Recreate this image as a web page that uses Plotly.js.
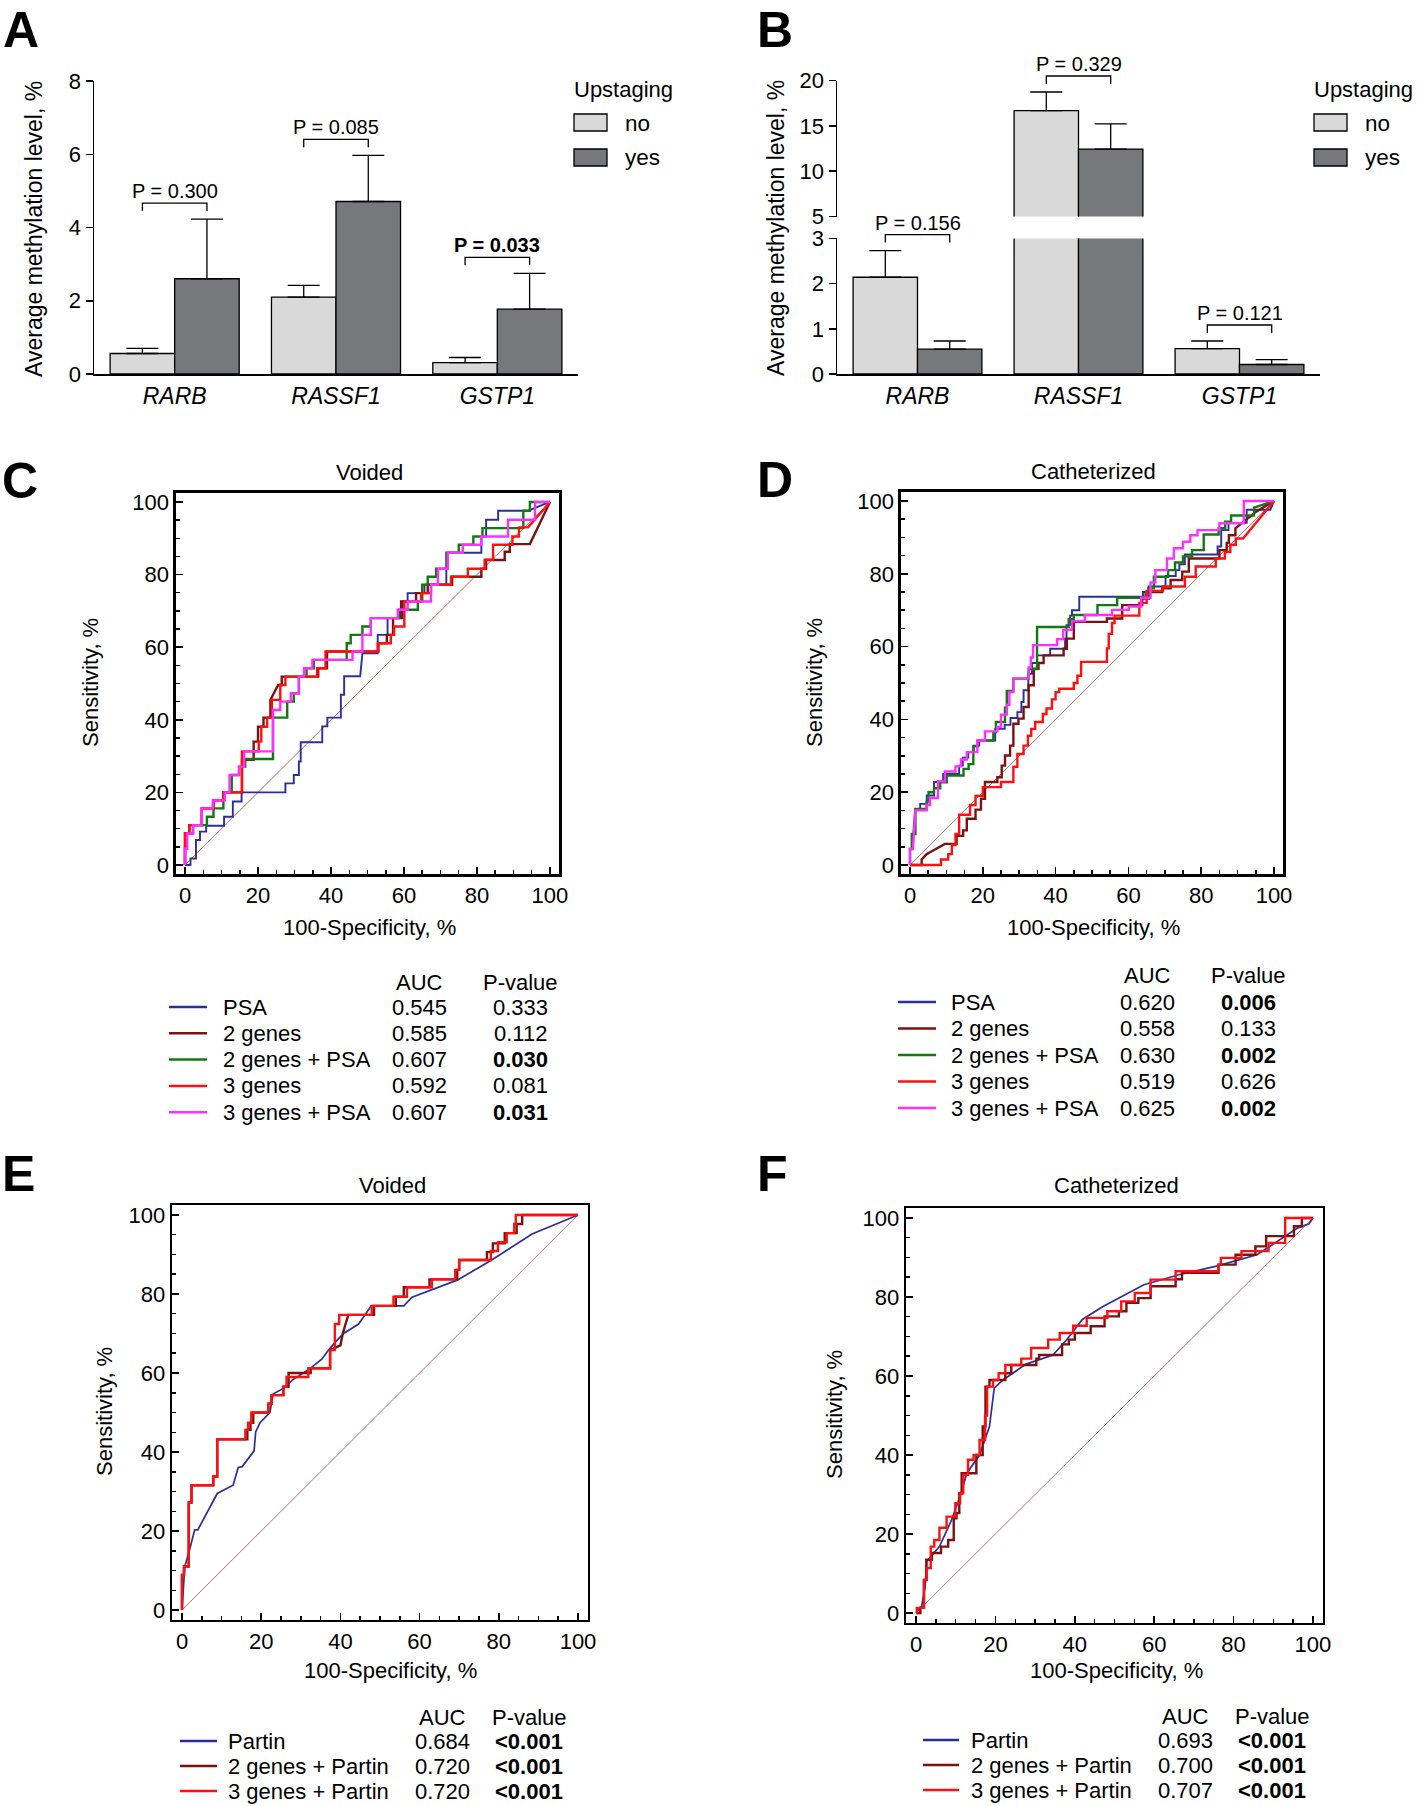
<!DOCTYPE html>
<html><head><meta charset="utf-8">
<script src="https://cdn.plot.ly/plotly-3.0.1.min.js"></script>
<style>html,body{margin:0;padding:0;background:#fff}</style>
</head><body><div id="chart" style="width:1418px;height:1806px"></div>
<script>
// ---------------- DATA ----------------
const genes = ['RARB', 'RASSF1', 'GSTP1'];
const groupNames = ['no', 'yes'];
const legendTitle = 'Upstaging';

// Panel A (voided urine)
const aNo = [0.56, 2.10, 0.31];
const aNoErr = [0.14, 0.32, 0.14];
const aYes = [2.60, 4.71, 1.77];
const aYesErr = [1.63, 1.26, 0.98];
const aP = ['0.300', '0.085', '0.033'];

// Panel B (catheterized urine)
const bNo = [2.14, 16.70, 0.56];
const bNoErr = [0.59, 2.05, 0.17];
const bYes = [0.55, 12.45, 0.21];
const bYesErr = [0.18, 2.78, 0.11];
const bP = ['0.156', '0.329', '0.121'];

// ROC legend tables
const cdNames = ['PSA', '2 genes', '2 genes + PSA', '3 genes', '3 genes + PSA'];
const cAUC = ['0.545', '0.585', '0.607', '0.592', '0.607'];
const cPval = ['0.333', '0.112', '0.030', '0.081', '0.031'];
const dAUC = ['0.620', '0.558', '0.630', '0.519', '0.625'];
const dPval = ['0.006', '0.133', '0.002', '0.626', '0.002'];
const efNames = ['Partin', '2 genes + Partin', '3 genes + Partin'];
const eAUC = ['0.684', '0.720', '0.720'];
const ePval = ['<0.001', '<0.001', '<0.001'];
const fAUC = ['0.693', '0.700', '0.707'];
const fPval = ['<0.001', '<0.001', '<0.001'];

// ROC curves [100-specificity, sensitivity] (%)
const cPSA = [[0,0],[1.5,0],[1.5,1.8],[3.0,1.8],[3.0,6.9],[4.1,6.9],[4.1,9.2],[5.8,9.2],[5.8,10.8],[10.7,10.8],[10.7,13.3],[13.1,13.3],[13.1,17.5],[15.5,17.5],[15.5,20.0],[27.5,20.0],[27.5,22.5],[29.8,22.5],[29.8,24.8],[31.2,24.8],[31.2,28.5],[31.7,28.5],[31.7,33.8],[37.6,33.8],[37.6,38.2],[39.0,38.2],[39.0,40.6],[42.7,40.6],[42.7,46.9],[43.6,46.9],[43.6,52.0],[48.0,52.0],[48.6,58.3],[52.8,58.3],[52.8,63.4],[55.5,63.4],[55.5,68.0],[59.6,68.0],[59.6,72.6],[61.0,72.6],[61.0,74.9],[65.6,74.9],[65.6,77.2],[71.6,77.2],[71.6,86.0],[81.2,86.0],[81.2,90.5],[82.5,90.5],[82.5,95.1],[85.8,95.1],[85.8,97.6],[94.0,97.6],[100,100]];
const c2Genes = [[0,0],[0,8.8],[1.2,8.8],[1.2,11.0],[4.6,11.0],[4.6,15.6],[7.8,15.6],[7.8,17.8],[10.5,17.8],[10.5,20.0],[15.6,20.0],[15.6,29.0],[18.8,29.0],[18.8,34.0],[20.0,34.0],[20.0,38.1],[21.5,38.1],[21.5,40.6],[23.4,40.6],[23.4,45.5],[24.8,48.2],[25.5,49.6],[26.5,49.6],[26.5,51.9],[36.5,51.9],[36.5,54.2],[38.9,54.2],[38.9,58.8],[53.0,58.8],[53.0,61.1],[55.3,61.1],[55.3,63.4],[57.0,63.4],[57.0,68.0],[59.2,68.0],[59.2,72.6],[63.3,72.6],[63.3,74.9],[66.5,74.9],[66.5,77.2],[73.2,77.2],[73.2,79.4],[81.2,79.4],[81.2,81.6],[82.5,81.6],[82.5,84.0],[87.6,84.0],[87.6,86.3],[89.0,86.3],[89.0,88.4],[94.5,88.4],[100,100]];
const c2GenesPSA = [[0,0],[0,4.6],[0.5,4.6],[0.5,8.7],[2.2,8.7],[2.2,11.0],[6.0,11.0],[6.0,13.3],[7.8,13.3],[7.8,15.6],[10.5,15.6],[10.5,20.0],[12.8,20.0],[12.8,24.8],[14.8,24.8],[14.8,27.1],[16.5,27.1],[16.5,29.2],[24.1,29.2],[24.1,40.6],[28.0,40.6],[28.0,45.0],[29.8,45.0],[29.8,47.3],[31.2,47.3],[31.2,51.9],[33.3,51.9],[33.3,54.2],[35.3,54.2],[35.3,56.5],[44.3,56.5],[44.3,61.1],[45.4,61.1],[45.4,63.4],[48.6,63.4],[48.6,65.7],[50.9,65.7],[50.9,68.0],[58.7,68.0],[58.7,70.3],[63.8,70.3],[63.8,72.6],[65.0,72.6],[65.0,77.2],[66.5,77.2],[66.5,79.4],[68.8,79.4],[68.8,81.6],[71.7,81.6],[71.7,86.0],[75.0,86.0],[75.0,88.2],[79.0,88.2],[79.0,90.5],[81.5,90.5],[81.5,92.8],[92.7,92.8],[92.7,97.6],[94.5,97.6],[94.5,100],[100,100]];
const c3Genes = [[0,0],[0,8.8],[1.2,8.8],[1.2,11.0],[4.6,11.0],[4.6,15.6],[7.8,15.6],[7.8,17.8],[10.5,17.8],[10.5,20.0],[15.6,20.0],[15.6,31.3],[20.2,31.3],[20.2,34.0],[20.9,34.0],[20.9,38.1],[22.5,38.1],[22.5,40.6],[23.8,40.6],[23.8,45.5],[26.1,45.5],[26.1,49.6],[27.5,49.6],[27.5,51.9],[36.2,51.9],[36.2,54.2],[38.5,54.2],[38.5,58.8],[52.8,58.8],[52.8,61.1],[56.4,61.1],[56.4,63.4],[57.3,63.4],[57.3,65.7],[60.1,65.7],[60.1,72.6],[64.7,72.6],[64.7,74.9],[67.4,74.9],[67.4,77.2],[72.9,77.2],[72.9,79.4],[77.5,79.4],[77.5,81.6],[82.1,81.6],[82.1,84.1],[84.4,84.1],[84.4,88.2],[89.7,88.2],[89.7,90.5],[91.5,90.5],[91.5,93.0],[94.0,93.0],[100,100]];
const c3GenesPSA = [[0,0],[0,4.5],[0.6,4.5],[0.6,8.7],[2.2,8.7],[2.2,11.0],[4.6,11.0],[4.6,15.6],[7.6,15.6],[7.6,17.8],[10.9,17.8],[10.9,20.0],[12.2,20.0],[12.2,24.8],[14.8,24.8],[14.8,27.1],[16.2,27.1],[16.2,31.3],[24.1,31.3],[24.1,42.7],[26.1,42.7],[26.1,45.0],[29.0,45.0],[29.0,47.3],[31.2,47.3],[31.2,51.9],[32.6,51.9],[32.6,54.2],[34.9,54.2],[34.9,56.5],[45.9,56.5],[45.9,58.8],[48.6,58.8],[48.6,63.4],[50.9,63.4],[50.9,68.0],[58.3,68.0],[58.3,70.3],[61.0,70.3],[61.0,72.6],[67.4,72.6],[67.4,77.2],[69.3,77.2],[69.3,81.6],[72.0,81.6],[72.0,86.0],[76.1,86.0],[76.1,88.2],[81.2,88.2],[81.2,90.5],[88.5,90.5],[88.5,95.1],[95.9,95.1],[95.9,100],[100,100]];

const dPSA = [[0,0],[0,4.4],[0.6,4.4],[1.4,15.4],[2.8,15.4],[2.8,16.8],[4.6,16.8],[4.6,19.1],[6.6,19.1],[6.6,22.8],[9.1,22.8],[9.1,25.0],[13.5,25.0],[13.5,27.3],[14.5,27.3],[14.5,29.5],[16.0,29.5],[16.0,31.0],[17.5,31.0],[17.5,32.8],[19.0,32.8],[19.0,34.2],[23.4,34.2],[23.4,37.4],[26.0,37.4],[26.0,38.5],[27.6,38.5],[27.6,40.4],[29.5,40.4],[29.5,42.0],[30.6,42.0],[30.6,44.8],[31.2,44.8],[31.2,48.0],[32.5,48.0],[32.5,52.5],[33.5,52.5],[33.5,55.5],[34.9,55.5],[34.9,57.6],[38.5,57.6],[38.5,59.4],[42.6,59.4],[42.6,62.2],[43.0,62.2],[43.0,65.9],[44.0,65.9],[44.0,68.5],[44.5,68.5],[44.5,70.0],[46.5,70.0],[46.5,73.7],[64.0,73.7],[64.0,75.0],[65.5,75.0],[65.5,76.5],[70.2,76.5],[70.2,79.4],[73.0,79.4],[73.0,81.0],[74.0,81.0],[74.0,82.6],[75.5,82.6],[75.5,85.3],[84.5,85.3],[84.5,87.5],[85.5,87.5],[85.5,92.0],[87.5,92.0],[87.5,94.0],[92.5,94.0],[92.5,97.6],[99.0,97.6],[100,100]];
const d2Genes = [[0,0],[3.2,0],[3.2,1.5],[4.6,3.0],[5.5,3.5],[9.6,5.8],[12.8,5.8],[12.8,8.0],[14.6,8.0],[14.6,9.5],[15.6,9.5],[15.6,12.7],[18.0,12.7],[18.0,15.2],[19.5,15.2],[19.5,18.2],[20.6,18.2],[20.6,22.8],[24.0,22.8],[24.0,24.1],[25.2,24.1],[25.2,27.3],[26.1,27.3],[26.1,30.1],[27.5,30.1],[27.5,32.8],[28.4,32.8],[28.4,38.8],[29.8,38.8],[29.8,40.2],[31.2,40.2],[31.2,43.4],[32.6,43.4],[32.6,49.4],[34.0,49.4],[34.0,53.9],[35.3,53.9],[35.3,55.5],[36.7,55.5],[36.7,57.6],[42.2,57.6],[42.2,59.4],[43.1,59.4],[43.1,62.2],[45.0,62.2],[45.0,66.8],[54.1,66.8],[54.1,67.7],[58.3,67.7],[58.3,71.4],[63.8,71.4],[63.8,73.2],[65.6,73.2],[65.6,75.0],[69.3,75.0],[69.3,76.0],[71.6,76.0],[71.6,78.3],[74.8,78.3],[74.8,80.6],[76.6,80.6],[76.6,84.2],[85.0,84.2],[85.0,86.5],[87.0,86.5],[87.0,88.5],[87.6,88.5],[87.6,90.6],[89.4,90.6],[89.4,92.5],[95.0,97.0],[100,100]];
const d2GenesPSA = [[0,0],[0,4.4],[0.5,4.4],[0.5,8.5],[1.5,8.5],[1.5,15.4],[4.6,15.4],[4.6,17.4],[5.1,17.4],[5.1,20.0],[6.6,20.0],[6.6,21.1],[8.3,21.1],[8.3,22.7],[10.1,22.7],[10.1,24.6],[14.7,24.6],[14.7,26.4],[16.1,26.4],[16.1,27.7],[17.4,27.7],[17.4,32.6],[18.6,32.6],[18.6,34.2],[22.9,34.2],[22.9,36.5],[23.6,36.5],[23.6,39.3],[26.1,39.3],[26.1,43.2],[26.6,43.2],[26.6,47.8],[28.4,47.8],[28.4,51.2],[32.6,51.2],[32.6,53.8],[34.9,53.8],[34.9,65.4],[43.6,65.4],[43.6,67.5],[45.0,67.5],[45.0,68.7],[51.5,68.7],[51.5,71.4],[56.9,71.4],[56.9,73.4],[64.7,73.4],[64.7,74.5],[65.5,74.5],[65.5,76.0],[67.0,76.0],[67.0,79.2],[70.9,79.2],[70.9,81.0],[72.8,81.0],[72.8,83.1],[75.0,83.1],[75.0,84.8],[77.5,84.8],[77.5,86.5],[80.7,86.5],[80.7,90.8],[84.8,90.8],[84.8,92.5],[86.6,92.5],[86.6,94.3],[88.2,94.3],[88.2,96.0],[94.5,96.0],[94.5,98.2],[100,100]];
const d3Genes = [[0,0],[8.5,0],[8.5,1.5],[10.5,1.5],[10.5,3.0],[11.5,3.0],[11.5,5.5],[12.5,5.5],[12.5,8.5],[13.5,8.5],[13.5,13.8],[16.5,13.8],[16.5,16.5],[18.0,16.5],[18.0,19.0],[20.0,19.0],[20.0,21.4],[25.0,21.4],[25.0,22.8],[28.4,22.8],[28.4,27.0],[29.5,27.0],[29.5,30.5],[31.2,30.5],[31.2,32.8],[32.4,32.8],[32.4,35.5],[33.3,35.5],[33.3,37.4],[34.4,37.4],[34.4,39.3],[36.5,39.3],[36.5,41.5],[37.5,41.5],[37.5,43.0],[39.0,43.0],[39.0,45.5],[40.0,45.5],[40.0,47.5],[41.0,47.5],[41.0,48.4],[45.0,48.4],[45.0,50.0],[46.0,50.0],[46.0,52.0],[47.0,52.0],[47.0,55.8],[54.1,55.8],[54.1,59.5],[54.6,59.5],[54.6,63.5],[55.5,63.5],[55.5,66.5],[56.2,66.5],[56.2,68.5],[63.0,68.5],[63.0,72.0],[65.0,72.0],[65.0,75.3],[69.5,75.3],[69.5,76.5],[75.5,76.5],[75.5,79.2],[78.5,79.2],[78.5,82.0],[84.0,82.0],[84.0,84.2],[86.5,84.2],[86.5,86.0],[88.0,86.0],[88.0,88.0],[89.5,88.0],[89.5,89.7],[91.5,89.7],[100,100]];
const d3GenesPSA = [[0,0],[0,4.4],[0.8,4.4],[1.5,15.0],[4.6,15.0],[4.6,16.5],[5.5,16.5],[5.5,18.4],[7.7,18.4],[7.7,23.0],[9.6,23.0],[9.6,25.7],[12.5,25.7],[12.5,27.1],[14.0,27.1],[14.0,29.0],[15.6,29.0],[15.6,31.0],[18.5,31.0],[18.5,34.2],[20.6,34.2],[20.6,36.7],[24.0,36.7],[24.0,37.9],[25.0,37.9],[25.0,41.3],[26.6,41.3],[26.6,44.0],[27.3,44.0],[27.3,47.5],[28.4,47.5],[28.4,51.2],[32.6,51.2],[32.6,54.3],[33.2,54.3],[33.2,57.0],[33.8,57.0],[33.8,60.4],[40.4,60.4],[40.4,62.0],[42.1,62.0],[42.1,64.6],[44.5,64.6],[44.5,67.0],[48.0,67.0],[48.0,68.7],[55.5,68.7],[55.5,70.1],[60.1,70.1],[60.1,71.0],[63.5,71.0],[63.5,73.4],[66.1,73.4],[66.1,77.6],[67.4,77.6],[67.4,81.0],[70.6,81.0],[70.6,84.2],[72.5,84.2],[72.5,87.0],[75.0,87.0],[75.0,88.8],[77.0,88.8],[77.0,90.6],[79.0,90.6],[79.0,92.0],[85.0,92.0],[85.0,93.9],[91.7,93.9],[91.7,100],[100,100]];

const ePartin = [[0,0],[0.7,11.0],[1.9,15.2],[3.2,20.3],[4.0,20.3],[8.9,29.5],[12.9,31.6],[14.2,36.1],[15.2,36.3],[18.2,40.3],[18.6,45.1],[19.7,47.4],[22.2,50.0],[23.0,54.7],[25.6,56.1],[28.1,58.4],[31.9,60.8],[35.3,63.5],[37.0,65.8],[38.6,67.7],[40.8,70.0],[44.6,72.4],[47.8,77.0],[56.0,77.0],[58.1,79.2],[63.1,81.0],[69.5,83.5],[77.9,88.4],[88.4,95.2],[100,100]];
const e2GenesPartin = [[0,0],[0,8.9],[0.5,8.9],[0.5,11.0],[1.7,11.0],[1.7,27.2],[2.4,27.2],[2.4,31.6],[7.9,31.6],[7.9,33.8],[8.9,33.8],[8.9,43.2],[16.5,43.2],[16.5,45.6],[17.3,45.6],[17.3,47.4],[18.0,47.4],[18.0,50.0],[21.8,50.0],[21.8,52.2],[22.6,52.2],[22.6,54.4],[25.6,54.4],[25.6,56.5],[26.9,56.5],[26.9,60.0],[32.5,60.0],[32.5,61.2],[37.4,61.2],[37.4,65.8],[40.0,67.0],[40.6,70.0],[41.3,72.4],[42.0,74.7],[48.5,74.7],[48.5,77.0],[54.0,77.0],[54.0,79.3],[56.0,79.3],[56.0,81.7],[62.5,81.7],[62.5,83.7],[69.5,83.7],[69.5,86.1],[70.0,86.1],[70.0,88.6],[77.0,88.6],[77.0,90.6],[78.5,90.6],[78.5,92.8],[81.5,92.8],[81.5,95.4],[84.5,95.4],[84.5,97.7],[85.9,97.7],[85.9,100],[100,100]];
const e3GenesPartin = [[0,0],[0,8.9],[0.5,8.9],[0.5,11.0],[1.7,11.0],[1.7,27.2],[2.4,27.2],[2.4,31.6],[7.9,31.6],[7.9,33.8],[8.9,33.8],[8.9,43.2],[16.0,43.2],[16.0,45.6],[16.7,45.6],[16.7,47.4],[17.5,47.4],[17.5,50.0],[21.8,50.0],[21.8,52.2],[22.6,52.2],[22.6,54.4],[25.6,54.4],[25.6,56.5],[26.4,56.5],[26.4,59.0],[31.9,59.0],[31.9,61.2],[37.4,61.2],[37.4,65.8],[38.6,65.8],[38.6,72.4],[39.7,72.4],[39.7,74.7],[47.9,74.7],[47.9,77.0],[53.4,77.0],[53.4,79.3],[56.8,79.3],[56.8,81.7],[63.1,81.7],[63.1,83.7],[69.0,83.7],[69.0,86.1],[70.0,86.1],[70.0,88.6],[78.0,88.6],[78.0,90.9],[79.8,90.9],[79.8,93.1],[82.0,93.1],[82.0,95.4],[83.9,95.4],[83.9,97.7],[84.3,97.7],[84.3,100],[100,100]];

const fPartin = [[0,0],[1.4,1.7],[2.3,6.7],[2.7,13.1],[5.9,16.8],[8.8,23.2],[11.1,29.5],[12.8,35.4],[16.0,40.0],[18.5,47.2],[19.7,56.9],[21.9,59.0],[27.7,63.0],[34.5,65.3],[37.9,69.1],[41.9,74.3],[47.1,77.6],[57.4,83.1],[66.5,85.7],[75.7,87.8],[85.9,90.7],[96.2,97.5],[99.0,98.5],[100,100]];
const f2GenesPartin = [[0,0],[1.1,0],[1.1,1.3],[2.0,1.3],[2.0,8.4],[2.6,8.4],[2.6,13.5],[4.0,13.5],[4.0,15.2],[6.3,15.2],[6.3,16.8],[8.1,16.8],[8.1,18.5],[9.5,18.5],[9.5,24.0],[10.2,24.0],[10.2,25.3],[10.9,25.3],[10.9,30.3],[11.5,30.3],[11.5,35.4],[15.2,35.4],[15.2,40.0],[16.8,40.0],[16.8,47.2],[17.5,47.2],[17.5,57.3],[18.5,57.3],[18.5,59.0],[22.5,59.0],[22.5,60.7],[24.0,60.7],[24.0,62.8],[30.3,62.8],[30.3,64.4],[31.0,64.4],[31.0,65.3],[36.8,65.3],[36.8,68.0],[38.5,68.0],[38.5,69.2],[40.0,69.2],[40.0,70.9],[44.0,70.9],[44.0,72.6],[47.5,72.6],[47.5,75.1],[51.1,75.1],[51.1,76.4],[53.0,76.4],[53.0,78.5],[56.0,78.5],[56.0,79.7],[59.1,79.7],[59.1,82.7],[65.4,82.7],[65.4,84.5],[67.0,84.5],[67.0,86.1],[76.2,86.1],[76.2,88.2],[80.5,88.2],[80.5,90.7],[85.5,90.7],[85.5,92.8],[88.2,92.8],[88.2,95.4],[95.2,95.4],[95.2,97.9],[97.2,97.9],[97.2,100],[100,100]];
const f3GenesPartin = [[0,0],[0.2,0],[0.2,1.3],[2.0,1.3],[2.0,8.4],[2.7,8.4],[2.7,11.4],[3.7,11.4],[3.7,16.8],[4.6,16.8],[4.6,18.5],[5.9,18.5],[5.9,21.6],[7.7,21.6],[7.7,24.4],[9.9,24.4],[9.9,27.8],[11.1,27.8],[11.1,30.3],[11.9,30.3],[11.9,35.0],[13.1,35.0],[13.1,38.8],[14.5,38.8],[14.5,40.0],[16.0,40.0],[16.0,43.8],[17.4,43.8],[17.4,50.0],[17.9,50.0],[17.9,57.3],[19.4,57.3],[19.4,59.0],[20.8,59.0],[20.8,60.7],[22.5,60.7],[22.5,62.8],[26.5,62.8],[26.5,64.4],[29.0,64.4],[29.0,67.1],[33.3,67.1],[33.3,69.2],[36.2,69.2],[36.2,70.9],[39.6,70.9],[39.6,72.7],[43.0,72.7],[43.0,74.7],[48.2,74.7],[48.2,76.4],[51.7,76.4],[51.7,78.9],[55.1,78.9],[55.1,81.0],[59.1,81.0],[59.1,84.4],[65.4,84.4],[65.4,86.5],[76.2,86.5],[76.2,88.2],[76.8,88.2],[76.8,89.9],[82.0,89.9],[82.0,91.6],[88.8,91.6],[88.8,93.7],[93.0,93.7],[93.0,100],[100,100]];

// ---------------- STYLE / GEOMETRY ----------------
const W = 1418, H = 1806;
const FONT = "'Liberation Sans', Arial, Helvetica, sans-serif";
const fx = p => p / W;
const fy = p => 1 - p / H;

const colNo = '#d9d9da', colYes = '#77787b';
const cBlue = '#2b2f9a', cBrown = '#7a1212', cGreen = '#137813', cRed = '#ff1010', cMag = '#ff30ff';
const cdColors = [cBlue, cBrown, cGreen, cRed, cMag];
const efColors = [cBlue, cBrown, cRed];

// pixel geometry of bar panels
const gA = {x: [94, 578], y: [374, 81], r: [0, 8]};
const gBlo = {x: [837, 1320], y: [374, 238.4], r: [0, 3]};
const gBhi = {x: [837, 1320], y: [216.5, 80.7], r: [5, 20]};

// pixel geometry of ROC panels (plot area)
const gC = {x: [175.9, 559.1], y: [874.1, 492.9]};
const gD = {x: [900.9, 1283.1], y: [874.1, 491.9]};
const gE = {x: [172.1, 587.9], y: [1619.9, 1205.1]};
const gF = {x: [906.1, 1322.9], y: [1622.9, 1208.1]};

const traces = [];
const shapes = [];
const annotations = [];

function txt(x, y, text, size, opts) {
  annotations.push(Object.assign({
    xref: 'paper', yref: 'paper', x: fx(x), y: fy(y), text: text, showarrow: false,
    font: {family: FONT, size: size, color: '#000'}, xanchor: 'center', yanchor: 'middle'
  }, opts || {}));
}

// ---------- bar traces ----------
function barTraces(no, noErr, yes, yesErr, xa, ya) {
  const xs = genes.map((g, i) => i);
  traces.push({
    type: 'bar', x: xs, y: no, name: groupNames[0], xaxis: xa, yaxis: ya,
    marker: {color: colNo, line: {color: '#000', width: 1.3}},
    error_y: {type: 'data', array: noErr, arrayminus: no.map(() => 0), symmetric: false, color: '#000', thickness: 1.3, width: 16},
    showlegend: false, hoverinfo: 'skip'
  });
  traces.push({
    type: 'bar', x: xs, y: yes, name: groupNames[1], xaxis: xa, yaxis: ya,
    marker: {color: colYes, line: {color: '#000', width: 1.3}},
    error_y: {type: 'data', array: yesErr, arrayminus: yes.map(() => 0), symmetric: false, color: '#000', thickness: 1.3, width: 16},
    showlegend: false, hoverinfo: 'skip'
  });
}
barTraces(aNo, aNoErr, aYes, aYesErr, 'x', 'y');
barTraces(bNo, bNoErr, bYes, bYesErr, 'x2', 'y2');
barTraces(bNo, bNoErr, bYes, bYesErr, 'x2', 'y3');

// ---------- significance brackets ----------
function vpx(g, v) { return g.y[0] + (v - g.r[0]) / (g.r[1] - g.r[0]) * (g.y[1] - g.y[0]); }
function xpx(g, v) { return g.x[0] + (v + 0.5) / 3 * (g.x[1] - g.x[0]); }
function brackets(no, noErr, yes, yesErr, pv, pick) {
  genes.forEach((gname, i) => {
    const top = Math.max(no[i] + noErr[i], yes[i] + yesErr[i]);
    const g = pick(top);
    const topPx = vpx(g, top);
    const br = topPx - 16, leg = br + 8;
    const x0 = xpx(g, i - 0.2), x1 = xpx(g, i + 0.2);
    shapes.push({type: 'path', xref: 'paper', yref: 'paper',
      path: `M ${fx(x0)},${fy(leg)} L ${fx(x0)},${fy(br)} L ${fx(x1)},${fy(br)} L ${fx(x1)},${fy(leg)}`,
      line: {color: '#000', width: 1.3}});
    const sig = parseFloat(pv[i]) < 0.05;
    const label = 'P = ' + pv[i];
    txt((x0 + x1) / 2, br - 12, sig ? '<b>' + label + '</b>' : label, 20);
  });
}
brackets(aNo, aNoErr, aYes, aYesErr, aP, () => gA);
brackets(bNo, bNoErr, bYes, bYesErr, bP, t => (t > gBlo.r[1] ? gBhi : gBlo));

// ---------- bar legends ----------
function barLegend(x0) {
  txt(x0, 90, legendTitle, 22, {xanchor: 'left'});
  [[colNo, 114, 131, 123], [colYes, 149, 166, 158]].forEach((r, k) => {
    shapes.push({type: 'rect', xref: 'paper', yref: 'paper', x0: fx(x0 + 2), x1: fx(x0 + 35), y0: fy(r[2]), y1: fy(r[1]),
      fillcolor: r[0], line: {color: '#000', width: 1.3}});
    txt(x0 + 51, r[3], groupNames[k], 22.5, {xanchor: 'left'});
  });
}
barLegend(572);
barLegend(1312);

// ---------- ROC traces ----------
function roc(pts, color, xa, ya, w) {
  traces.push({type: 'scatter', mode: 'lines', x: pts.map(p => p[0]), y: pts.map(p => p[1]),
    xaxis: xa, yaxis: ya, line: {color: color, width: w || 2.4}, showlegend: false, hoverinfo: 'skip'});
}
function diag(xa, ya) {
  traces.push({type: 'scatter', mode: 'lines', x: [0, 100], y: [0, 100], xaxis: xa, yaxis: ya,
    line: {color: '#b85a5a', width: 0.9}, showlegend: false, hoverinfo: 'skip'});
}
diag('x3', 'y4');
[cPSA, c2Genes, c2GenesPSA, c3Genes, c3GenesPSA].forEach((c, i) => roc(c, cdColors[i], 'x3', 'y4', i === 0 ? 1.9 : 2.4));
diag('x4', 'y5');
[dPSA, d2Genes, d2GenesPSA, d3Genes, d3GenesPSA].forEach((c, i) => roc(c, cdColors[i], 'x4', 'y5', i === 0 ? 1.9 : 2.4));
diag('x5', 'y6');
[ePartin, e2GenesPartin, e3GenesPartin].forEach((c, i) => roc(c, efColors[i], 'x5', 'y6', i === 0 ? 1.7 : 2.4));
diag('x6', 'y7');
[fPartin, f2GenesPartin, f3GenesPartin].forEach((c, i) => roc(c, efColors[i], 'x6', 'y7', i === 0 ? 1.7 : 2.4));

// ---------- ROC legend tables ----------
function rocTable(names, colors, auc, pv, t) {
  txt(t.ax, t.hy, 'AUC', 22);
  txt(t.px, t.hy, 'P-value', 22);
  names.forEach((n, i) => {
    const y = t.y0 + i * t.dy;
    shapes.push({type: 'line', xref: 'paper', yref: 'paper', x0: fx(t.l0), x1: fx(t.l1), y0: fy(y), y1: fy(y),
      line: {color: colors[i], width: 2.5}});
    txt(t.tx, y, n, 22, {xanchor: 'left'});
    txt(t.ax, y, auc[i], 22);
    const sig = pv[i].startsWith('<') || parseFloat(pv[i]) < 0.05;
    txt(t.px, y, sig ? '<b>' + pv[i] + '</b>' : pv[i], 22);
  });
}
rocTable(cdNames, cdColors, cAUC, cPval, {hy: 982, ax: 419, px: 520, y0: 1007, dy: 26.3, l0: 169, l1: 207, tx: 221});
rocTable(cdNames, cdColors, dAUC, dPval, {hy: 975, ax: 1147, px: 1248, y0: 1002, dy: 26.5, l0: 898, l1: 936, tx: 949});
rocTable(efNames, efColors, eAUC, ePval, {hy: 1717, ax: 442, px: 529, y0: 1741, dy: 25, l0: 180, l1: 217, tx: 226});
rocTable(efNames, efColors, fAUC, fPval, {hy: 1716, ax: 1185, px: 1272, y0: 1740, dy: 25, l0: 923, l1: 959, tx: 969});

// ---------- titles / axis titles / panel letters ----------
txt(34, 229, 'Average methylation level, %', 23, {textangle: -90});
txt(776, 228, 'Average methylation level, %', 23, {textangle: -90});
txt(369, 473, 'Voided', 22);
txt(1093, 472, 'Catheterized', 22);
txt(392, 1185, 'Voided', 22);
txt(1116, 1185, 'Catheterized', 22);
txt(369, 928, '100-Specificity, %', 22);
txt(1093, 928, '100-Specificity, %', 22);
txt(390, 1670, '100-Specificity, %', 22);
txt(1116, 1670, '100-Specificity, %', 22);
txt(91, 683, 'Sensitivity, %', 22, {textangle: -90});
txt(815, 683, 'Sensitivity, %', 22, {textangle: -90});
txt(104, 1412, 'Sensitivity, %', 22, {textangle: -90});
txt(834, 1415, 'Sensitivity, %', 22, {textangle: -90});
const letterFont = {family: "Arial, 'Liberation Sans', sans-serif", size: 50, color: '#000'};
[['A', 1, 0], ['B', 755, 0]].forEach(l => {
  txt(l[1], l[2], '<b>' + l[0] + '</b>', 50, {xanchor: 'left', yanchor: 'top', font: letterFont});
});
[['C', 0, 481], ['D', 755, 480], ['E', 0, 1174], ['F', 755, 1174]].forEach(l => {
  txt(l[1], l[2], '<b>' + l[0] + '</b>', 50, {xanchor: 'left', font: letterFont});
});

// ---------- axes ----------
const baseAx = {showgrid: false, zeroline: false, showline: true, linecolor: '#000', fixedrange: true,
  tickcolor: '#000', tickfont: {family: FONT, size: 22, color: '#000'}};
function catX(g, anchor) {
  return Object.assign({}, baseAx, {domain: [fx(g.x[0]), fx(g.x[1])], anchor: anchor, range: [-0.5, 2.5],
    tickmode: 'array', tickvals: genes.map((g2, i) => i), ticktext: genes.map(g2 => '<i>' + g2 + '</i>'),
    ticks: '', linewidth: 1.5, tickfont: {family: FONT, size: 23, color: '#000'}, ticklabelstandoff: 1});
}
function valY(g, anchor, tick) {
  return Object.assign({}, baseAx, {domain: [fy(g.y[0]), fy(g.y[1])], anchor: anchor, range: g.r,
    ticks: 'outside', ticklen: 7, tickwidth: 1.5, linewidth: 1.5}, tick);
}
function rocX(g, anchor) {
  return Object.assign({}, baseAx, {domain: [fx(g.x[0]), fx(g.x[1])], anchor: anchor, range: [-2.5, 102.5],
    tick0: 0, dtick: 20, ticks: 'inside', ticklen: 7, tickwidth: 1.5, mirror: true, linewidth: 2.5,
    minor: {tick0: 0, dtick: 5, ticks: 'inside', ticklen: 4, tickwidth: 1.5, tickcolor: '#000'}});
}
function rocY(g, anchor) {
  return Object.assign({}, baseAx, {domain: [fy(g.y[0]), fy(g.y[1])], anchor: anchor, range: [-2.5, 102.5],
    tick0: 0, dtick: 20, ticks: 'inside', ticklen: 7, tickwidth: 1.5, mirror: true, linewidth: 2.5,
    minor: {tick0: 0, dtick: 5, ticks: 'inside', ticklen: 4, tickwidth: 1.5, tickcolor: '#000'}});
}

const layout = {
  width: W, height: H, margin: {l: 0, r: 0, t: 0, b: 0},
  paper_bgcolor: '#fff', plot_bgcolor: 'rgba(0,0,0,0)',
  font: {family: FONT, color: '#000'},
  showlegend: false, barmode: 'group', bargap: 0.2, bargroupgap: 0,
  xaxis: catX(gA, 'y'),
  yaxis: valY(gA, 'x', {tick0: 0, dtick: 2}),
  xaxis2: catX(gBlo, 'y2'),
  yaxis2: valY(gBlo, 'x2', {tick0: 0, dtick: 1}),
  yaxis3: valY(gBhi, 'x2', {tickmode: 'array', tickvals: [5, 10, 15, 20]}),
  xaxis3: rocX(gC, 'y4'), yaxis4: rocY(gC, 'x3'),
  xaxis4: rocX(gD, 'y5'), yaxis5: rocY(gD, 'x4'),
  xaxis5: rocX(gE, 'y6'), yaxis6: rocY(gE, 'x5'),
  xaxis6: rocX(gF, 'y7'), yaxis7: rocY(gF, 'x6'),
  shapes: shapes, annotations: annotations
};

Plotly.newPlot('chart', traces, layout, {staticPlot: true, displayModeBar: false});
</script></body></html>
